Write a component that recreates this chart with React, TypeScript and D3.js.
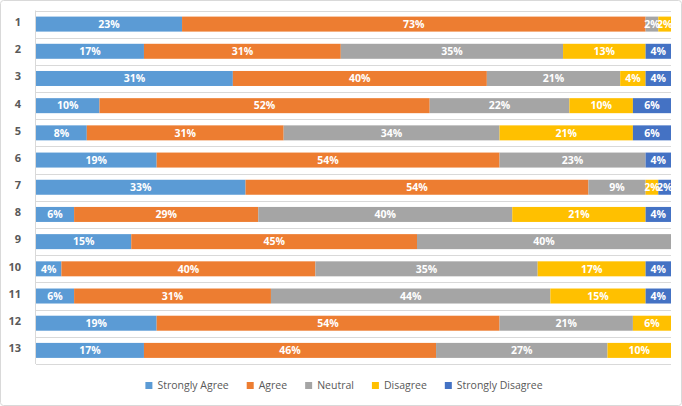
import React, { useEffect, useRef } from "react";
import * as d3 from "d3";

const categories = ["1","2","3","4","5","6","7","8","9","10","11","12","13"];
const seriesNames = ["Strongly Agree","Agree","Neutral","Disagree","Strongly Disagree"];
const stronglyAgree = [23,17,31,10,8,19,33,6,15,4,6,19,17];
const agree = [73,31,40,52,31,54,54,29,45,40,31,54,46];
const neutral = [2,35,21,22,34,23,9,40,40,35,44,21,27];
const disagree = [2,13,4,10,21,0,2,21,0,17,15,6,10];
const stronglyDisagree = [0,4,4,6,6,4,2,4,0,4,4,0,0];
const colors = ["#5B9BD5","#ED7D31","#A5A5A5","#FFC000","#4472C4"];

const W = 682, H = 406;
const FONT = "'Open Sans', 'Noto Sans', sans-serif";

export default function App() {
  const ref = useRef<SVGSVGElement>(null);
  useEffect(() => {
    document.body.style.margin = "0";
    const svg = d3.select(ref.current);
    svg.selectAll("*").remove();
    svg.append("rect").attr("x",0.5).attr("y",0.5).attr("width",W-1).attr("height",H-1)
      .attr("rx",3).attr("fill","#fff").attr("stroke","#D9D9D9");

    const x = d3.scaleLinear().domain([0,100]).range([36,671]);
    const top = 10.5, bottom = 364;
    const y = d3.scaleBand<string>().domain(categories).range([top,bottom]).paddingInner(0).paddingOuter(0);
    const step = y.step();
    const barH = 15;

    // gridlines
    const g = svg.append("g");
    d3.range(categories.length+1).forEach(i => {
      const yy = Math.round(top + i*step) + 0.5;
      g.append("line").attr("x1",36).attr("x2",671).attr("y1",yy).attr("y2",yy)
        .attr("stroke","#D9D9D9").attr("stroke-width",1);
    });
    g.append("line").attr("x1",35.5).attr("x2",35.5).attr("y1",top).attr("y2",bottom)
      .attr("stroke","#D9D9D9");

    const data = categories.map((c,i) => ({
      cat: c,
      "Strongly Agree": stronglyAgree[i],
      "Agree": agree[i],
      "Neutral": neutral[i],
      "Disagree": disagree[i],
      "Strongly Disagree": stronglyDisagree[i],
    }));
    const stack = d3.stack<any>().keys(seriesNames)(data);

    stack.forEach((layer, si) => {
      const lg = svg.append("g");
      layer.forEach((d, i) => {
        const v = d[1]-d[0];
        if (v <= 0) return;
        const cat = categories[i];
        const by = (y(cat) as number) + (step-barH)/2;
        lg.append("rect").attr("x",x(d[0])).attr("y",by).attr("width",x(d[1])-x(d[0])).attr("height",barH)
          .attr("fill",colors[si]);
      });
    });
    stack.forEach((layer) => {
      layer.forEach((d, i) => {
        const v = d[1]-d[0];
        if (v <= 0) return;
        const cat = categories[i];
        const cy = (y(cat) as number) + step/2;
        svg.append("text").attr("x",(x(d[0])+x(d[1]))/2).attr("y",cy).attr("dy","0.35em")
          .attr("text-anchor","middle").attr("fill","#fff").attr("font-weight","bold")
          .attr("font-size",10.5).attr("font-family",FONT).text(v+"%");
      });
    });

    categories.forEach(c => {
      svg.append("text").attr("x",21).attr("y",(y(c) as number)+step/2 - 2).attr("dy","0.35em")
        .attr("text-anchor","end").attr("fill","#595959").attr("font-weight","bold")
        .attr("font-size",11).attr("font-family",FONT).text(c);
    });

    // legend
    const leg = svg.append("g");
    let lx = 0;
    seriesNames.forEach((n, i) => {
      const it = leg.append("g").attr("transform",`translate(${lx},0)`);
      it.append("rect").attr("x",0).attr("y",-3).attr("width",7).attr("height",7).attr("fill",colors[i]);
      const t = it.append("text").attr("x",12).attr("y",0).attr("dy","0.35em").attr("fill","#595959")
        .attr("font-size",10.5).attr("font-family",FONT).text(n);
      const w = (t.node() as SVGTextElement).getComputedTextLength();
      lx += 12 + w + 18;
    });
    const total = lx - 18;
    leg.attr("transform",`translate(${344 - total/2},385)`);
  }, []);
  return <svg ref={ref} width={W} height={H} style={{display:"block"}} />;
}
